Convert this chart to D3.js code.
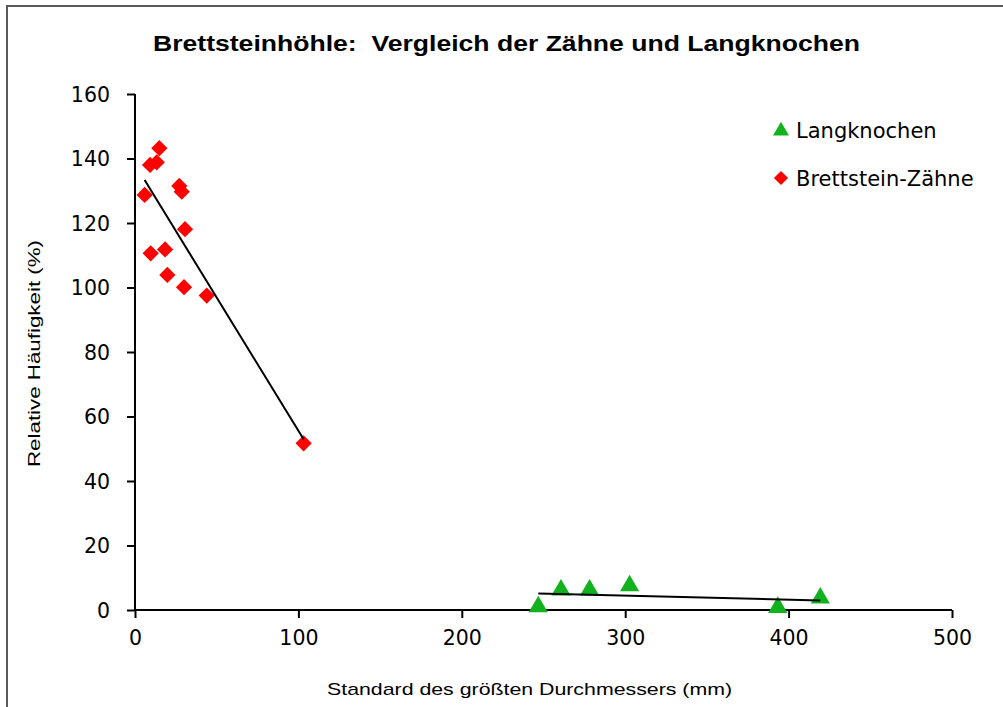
<!DOCTYPE html>
<html><head><meta charset="utf-8">
<script src="https://cdn.jsdelivr.net/npm/d3@7"></script>
<style>
html,body{margin:0;padding:0;background:#fff;}
svg{display:block;}
text{white-space:pre;}
</style></head>
<body>
<svg id="chart" width="1003" height="707"></svg>
<script>
// ---- data ----
const titleText = "Brettsteinhöhle:  Vergleich der Zähne und Langknochen";
const xLabel = "Standard des größten Durchmessers (mm)";
const yLabel = "Relative Häufigkeit (%)";
const seriesNames = ["Langknochen", "Brettstein-Zähne"];
const xTicks = [0, 100, 200, 300, 400, 500];
const yTicks = [0, 20, 40, 60, 80, 100, 120, 140, 160];

const langX = [246.8, 260.7, 278.2, 302.7, 393.4, 419.4];
const langY = [1.0, 6.2, 6.2, 7.5, 0.8, 3.7];

const zahnX = [14.9, 9.2, 13.3, 5.9, 27.1, 28.6, 30.6, 9.6, 18.4, 19.8, 30.0, 43.9, 103.2];
const zahnY = [143.2, 138.0, 138.8, 128.7, 131.5, 129.7, 118.1, 110.6, 111.8, 103.9, 100.1, 97.5, 51.7];

// ---- layout ----
const svg = d3.select("#chart");
const L = 135, R = 952, T = 94, B = 610;
const x = d3.scaleLinear().domain([0, 500]).range([L, R]);
const y = d3.scaleLinear().domain([0, 160]).range([B, T]);
const green = "#12b21e", red = "#ff0000";
const tickFont = "'DejaVu Sans', sans-serif";
const arial = "'Liberation Sans', Arial, sans-serif";

// chart area border
svg.append("rect").attr("x", 7).attr("y", 6).attr("width", 1000).attr("height", 720)
  .attr("fill", "#fff").attr("stroke", "#595959").attr("stroke-width", 2);

// title
svg.append("text").attr("x", 153).attr("y", 51)
  .attr("font-family", arial).attr("font-weight", "bold")
  .attr("font-size", 22).attr("fill", "#000")
  .attr("textLength", 707).attr("lengthAdjust", "spacingAndGlyphs").text(titleText);

// axes
const xAxis = svg.append("g").attr("transform", `translate(0,${B})`)
  .call(d3.axisBottom(x).tickValues(xTicks).tickSize(8).tickPadding(12).tickFormat(d3.format("d")));
const yAxis = svg.append("g").attr("transform", `translate(${L},0)`)
  .call(d3.axisLeft(y).tickValues(yTicks).tickSize(8).tickPadding(17).tickFormat(d3.format("d")));
[xAxis, yAxis].forEach(g => {
  g.select(".domain").attr("stroke", "#000").attr("stroke-width", 2);
  g.selectAll(".tick line").attr("stroke", "#000").attr("stroke-width", 2);
  g.selectAll(".tick text").attr("font-family", tickFont).attr("font-size", 20.5).attr("fill", "#000");
});
xAxis.select(".domain").attr("d", `M${L},0H${R}`);
yAxis.select(".domain").attr("d", `M0,${B}V${T}`);
yAxis.selectAll(".tick text").attr("dy", "0.36em");

// axis titles
svg.append("text").attr("x", 327).attr("y", 695)
  .attr("font-family", arial).attr("font-size", 17)
  .attr("textLength", 405).attr("lengthAdjust", "spacingAndGlyphs").text(xLabel);
svg.append("text").attr("transform", `translate(40,467) rotate(-90)`)
  .attr("font-family", arial).attr("font-size", 17)
  .attr("textLength", 227).attr("lengthAdjust", "spacingAndGlyphs").text(yLabel);

// regression trendlines
function trend(xs, ys) {
  const mx = d3.mean(xs), my = d3.mean(ys);
  const sxy = d3.sum(xs, (v, i) => (v - mx) * (ys[i] - my));
  const sxx = d3.sum(xs, v => (v - mx) * (v - mx));
  const b = sxy / sxx, a = my - b * mx;
  const [x0, x1] = d3.extent(xs);
  return [[x0, a + b * x0], [x1, a + b * x1]];
}
const line = d3.line().x(d => x(d[0])).y(d => y(d[1]));

const triangle = d3.symbol().type(d3.symbolTriangle);
const diamond = d3.symbol().type(d3.symbolSquare);

// Zähne markers
svg.append("g").selectAll("path").data(zahnX.map((v, i) => [v, zahnY[i]])).join("path")
  .attr("d", diamond.size(132)())
  .attr("transform", d => `translate(${x(d[0])},${y(d[1])}) rotate(45)`)
  .attr("fill", red);
// Langknochen markers
svg.append("g").selectAll("path").data(langX.map((v, i) => [v, langY[i]])).join("path")
  .attr("d", triangle.size(160)())
  .attr("transform", d => `translate(${x(d[0])},${y(d[1])})`)
  .attr("fill", green);

svg.append("path").attr("d", line(trend(zahnX, zahnY))).attr("stroke", "#000").attr("stroke-width", 2).attr("fill", "none");
svg.append("path").attr("d", line(trend(langX, langY))).attr("stroke", "#000").attr("stroke-width", 2).attr("fill", "none");

// legend
const leg = svg.append("g");
const legItems = [
  {name: seriesNames[0], color: green, sym: "tri", y: 130},
  {name: seriesNames[1], color: red, sym: "dia", y: 178}
];
legItems.forEach(it => {
  const p = leg.append("path").attr("fill", it.color);
  if (it.sym === "tri") p.attr("d", triangle.size(110)()).attr("transform", `translate(781,${it.y + 1})`);
  else p.attr("d", diamond.size(100)()).attr("transform", `translate(781,${it.y}) rotate(45)`);
  leg.append("text").attr("x", 796).attr("y", it.y).attr("dy", "0.36em")
    .attr("font-family", tickFont).attr("font-size", 21).attr("fill", "#000").text(it.name);
});
</script>
</body></html>
